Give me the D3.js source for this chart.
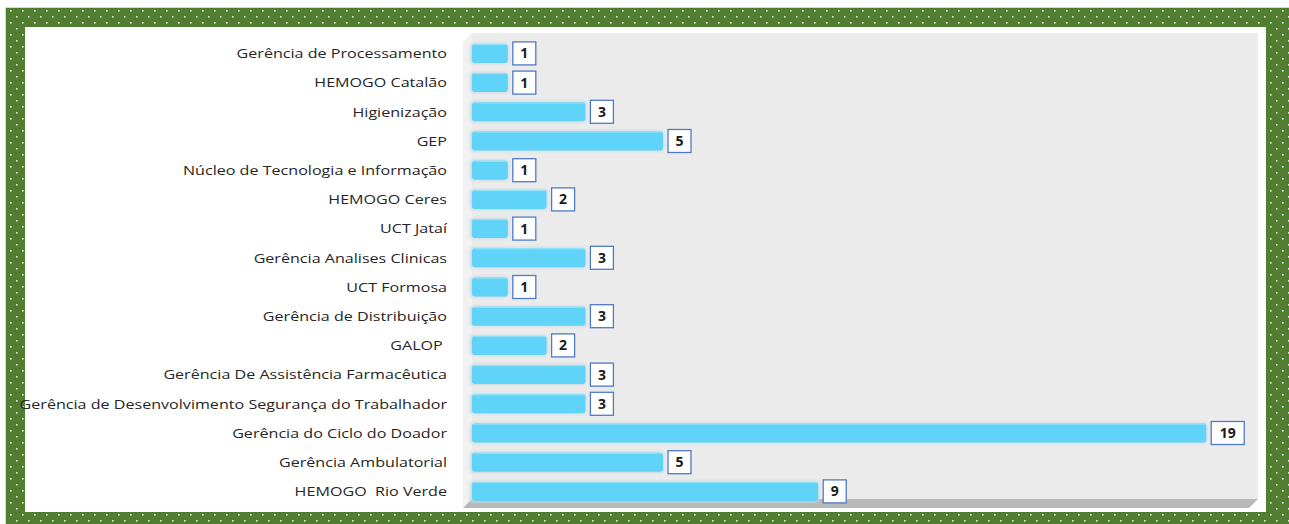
<!DOCTYPE html>
<html>
<head>
<meta charset="utf-8">
<script src="https://cdn.jsdelivr.net/npm/d3@7/dist/d3.min.js"></script>
<style>
  html, body { margin: 0; padding: 0; background: #ffffff; }
  svg { display: block; }
</style>
</head>
<body>
<svg id="chart" width="1289" height="524"></svg>
<script>
// Number of occurrences per unit
const categories = [
  "Gerência de Processamento",
  "HEMOGO Catalão",
  "Higienização",
  "GEP",
  "Núcleo de Tecnologia e Informação",
  "HEMOGO Ceres",
  "UCT Jataí",
  "Gerência Analises Clinicas",
  "UCT Formosa",
  "Gerência de Distribuição",
  "GALOP ",
  "Gerência De Assistência Farmacêutica",
  "Gerência de Desenvolvimento Segurança do Trabalhador",
  "Gerência do Ciclo do Doador",
  "Gerência Ambulatorial",
  "HEMOGO  Rio Verde"
];
const values = [1, 1, 3, 5, 1, 2, 1, 3, 1, 3, 2, 3, 3, 19, 5, 9];

const W = 1289, H = 524;
const svg = d3.select("#chart");
const defs = svg.append("defs");

// Dotted green frame pattern
const pat = defs.append("pattern")
  .attr("id", "dots").attr("patternUnits", "userSpaceOnUse")
  .attr("width", 12).attr("height", 12).attr("x", 2).attr("y", 1);
pat.append("rect").attr("width", 12).attr("height", 12).attr("fill", "#507d2f");
pat.append("rect").attr("x", 2).attr("y", 3).attr("width", 1.6).attr("height", 1.6).attr("fill", "#e4ecd8");
pat.append("rect").attr("x", 8).attr("y", 9).attr("width", 1.6).attr("height", 1.6).attr("fill", "#e4ecd8");

const glow = defs.append("filter").attr("id", "glow")
  .attr("x", "-5%").attr("y", "-40%").attr("width", "110%").attr("height", "180%");
glow.append("feGaussianBlur").attr("stdDeviation", 1.6);

// frame
svg.append("rect").attr("x", 5).attr("y", 7).attr("width", W - 5).attr("height", H - 7).attr("fill", "#d8d8d8");
svg.append("rect").attr("x", 6).attr("y", 8).attr("width", W - 6).attr("height", H - 8).attr("fill", "url(#dots)");
svg.append("rect").attr("x", 25).attr("y", 27).attr("width", 1266 - 25).attr("height", 512 - 27).attr("fill", "#ffffff");

// scales
const x = d3.scaleLinear().domain([0, 20]).range([469, 1245]);
const y = d3.scaleBand().domain(categories).range([38.8, 506]).paddingInner(0.35).paddingOuter(0.175);

// 3D plot box
const wallL = 472, wallR = 1258, wallT = 33, wallB = 499, depth = 9;
svg.append("rect").attr("x", wallL).attr("y", wallT).attr("width", wallR - wallL).attr("height", wallB - wallT).attr("fill", "#ebebeb");
svg.append("path")
  .attr("d", `M${wallL - depth},${wallT + depth} L${wallL},${wallT} L${wallL},${wallB} L${wallL - depth},${wallB + depth} Z`)
  .attr("fill", "#f1f1f1");
svg.append("path")
  .attr("d", `M${wallL},${wallB} L${wallR},${wallB} L${wallR - depth},${wallB + depth} L${wallL - depth},${wallB + depth} Z`)
  .attr("fill", "#b8b8b8");

// bars
const bars = svg.append("g");
bars.selectAll("rect.shadow").data(values).join("rect")
  .attr("class", "shadow")
  .attr("x", x(0) + 1).attr("y", (d, i) => y(categories[i]) - 1)
  .attr("width", d => x(d) - x(0)).attr("height", y.bandwidth() + 2)
  .attr("rx", 4)
  .attr("fill", "#c9dbe4").attr("filter", "url(#glow)");
bars.selectAll("rect.bar").data(values).join("rect")
  .attr("class", "bar")
  .attr("x", x(0) + 3).attr("y", (d, i) => y(categories[i]))
  .attr("width", d => x(d) - x(0) - 3).attr("height", y.bandwidth())
  .attr("rx", 3)
  .attr("fill", "#5fd4f8");
bars.selectAll("rect.top").data(values).join("rect")
  .attr("class", "top")
  .attr("x", x(0) + 5).attr("y", (d, i) => y(categories[i]))
  .attr("width", d => x(d) - x(0) - 6).attr("height", 1.2)
  .attr("fill", "#8fe2fa");

// category labels (slightly widened glyphs)
svg.append("g").selectAll("text").data(categories).join("text")
  .attr("transform", d => `translate(447,${y(d) + y.bandwidth() / 2}) scale(1.22,1)`)
  .attr("dy", "0.36em")
  .attr("text-anchor", "end")
  .attr("font-family", "'Open Sans', sans-serif")
  .attr("font-size", 13.2)
  .attr("fill", "#262626")
  .style("white-space", "pre")
  .text(d => d);

// value labels in boxes
const lab = svg.append("g").selectAll("g").data(values).join("g")
  .attr("transform", (d, i) => `translate(${x(d) + 5},${y(categories[i]) + y.bandwidth() / 2})`);
lab.append("rect")
  .attr("x", 0).attr("y", -11.5)
  .attr("width", d => String(d).length > 1 ? 33 : 23).attr("height", 23)
  .attr("fill", "#ffffff").attr("stroke", "#4f79c9").attr("stroke-width", 1.3);
lab.append("text")
  .attr("x", d => (String(d).length > 1 ? 33 : 23) / 2)
  .attr("dy", "0.36em")
  .attr("text-anchor", "middle")
  .attr("font-family", "'Open Sans', sans-serif")
  .attr("font-weight", "bold")
  .attr("font-size", 14)
  .attr("fill", "#1a1a1a")
  .text(d => d);
</script>
</body>
</html>
